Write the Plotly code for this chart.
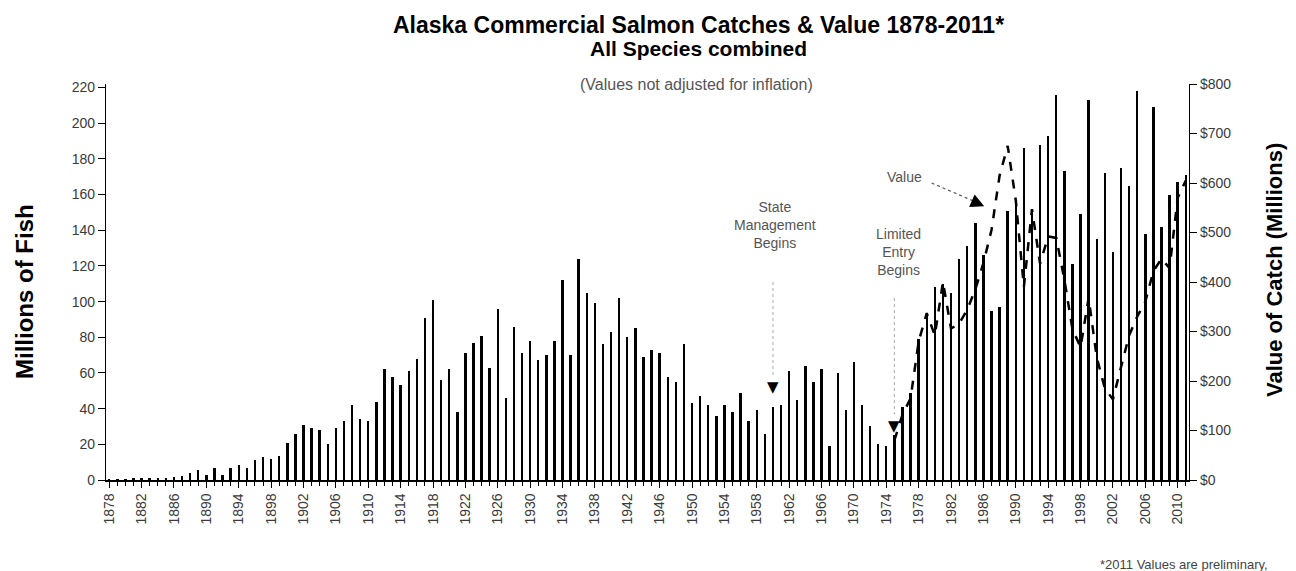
import plotly.graph_objects as go

# ---------------- data ----------------
years = list(range(1878, 2012))
catch_millions = [
    # 1878-1889
    0.2, 0.3, 0.4, 0.6, 1.0, 1.2, 1.0, 1.3, 1.8, 2.2, 4.0, 5.8,
    # 1890-1899
    3.0, 7.0, 3.0, 6.5, 8.4, 6.7, 11, 13, 12, 13.5,
    # 1900-1909
    21, 26, 31, 29, 28, 20, 29, 33, 42, 34,
    # 1910-1919
    33, 44, 62, 58, 53, 61, 68, 91, 101, 56,
    # 1920-1929
    62, 38, 71, 77, 81, 63, 96, 46, 86, 71,
    # 1930-1939
    78, 67, 70, 78, 112, 70, 124, 105, 99, 76,
    # 1940-1949
    83, 102, 80, 85, 69, 73, 71, 58, 55, 76,
    # 1950-1959
    43, 47, 42, 36, 42, 38, 49, 33, 39, 26,
    # 1960-1969
    41, 42, 61, 45, 64, 55, 62, 19, 60, 39,
    # 1970-1979
    66, 42, 30, 20, 19, 25, 41, 49, 79, 93,
    # 1980-1989
    108, 110, 105, 124, 131, 144, 126, 95, 97, 151,
    # 1990-1999
    154, 186, 151, 188, 193, 216, 173, 121, 149, 213,
    # 2000-2011
    135, 172, 128, 175, 165, 218, 138, 209, 142, 160, 167, 171,
]

value_years = list(range(1975, 2012))
value_millions = [
    80, 132, 165, 280, 337,
    292, 400, 306, 316, 344, 385, 438, 505, 615, 675,
    565, 390, 547, 437, 492, 489, 405, 305, 268, 368,
    248, 185, 163, 228, 292, 330, 360, 422, 447, 428,
    570, 605,
]

x_tick_years = list(range(1878, 2011, 4))
x_tick_labels = [str(y) for y in x_tick_years]
left_ticks = list(range(0, 221, 20))
left_tick_labels = [str(v) for v in left_ticks]
right_ticks = list(range(0, 801, 100))
right_tick_labels = ["$" + str(v) for v in right_ticks]

# ---------------- figure ----------------
FONT = "Liberation Sans, Arial, sans-serif"
TICKC = "#3a3a3a"

fig = go.Figure()
fig.add_trace(go.Bar(
    x=years, y=catch_millions, width=0.3,
    marker=dict(color="black", line=dict(width=0)),
    name="Catch", yaxis="y",
))
fig.add_trace(go.Scatter(
    x=value_years, y=value_millions, mode="lines",
    line=dict(color="black", width=2.5, dash="dash"),
    name="Value", yaxis="y2",
))

L, R, T, B = 98, 115, 76, 99
W, H = 1296, 571
pw, ph = W - L - R, H - T - B


def px_x(px):
    return (px - L) / pw


def px_y(py):
    return (H - B - py) / ph


fig.update_layout(
    width=W, height=H,
    margin=dict(l=L, r=R, t=T, b=B, pad=0),
    paper_bgcolor="white", plot_bgcolor="white",
    showlegend=False, bargap=0,
    font=dict(family=FONT, color=TICKC),
    xaxis=dict(
        range=[1877.6, 2011.4],
        tickmode="array", tickvals=x_tick_years, ticktext=x_tick_labels,
        tickangle=-90, tickfont=dict(size=14, color=TICKC),
        showline=True, linecolor="black", linewidth=1.5,
        ticks="outside", ticklen=6, tickcolor="black",
        minor=dict(tickmode="linear", tick0=1878, dtick=1, ticks="outside",
                   ticklen=4, tickcolor="black"),
        showgrid=False, zeroline=False,
    ),
    yaxis=dict(
        range=[0, 222],
        tickmode="array", tickvals=left_ticks, ticktext=left_tick_labels,
        tickfont=dict(size=14, color=TICKC),
        showline=True, linecolor="black", linewidth=1.2,
        ticks="outside", ticklen=7, tickcolor="black",
        showgrid=False, zeroline=False,
    ),
    yaxis2=dict(
        range=[0, 800], overlaying="y", side="right",
        tickmode="array", tickvals=right_ticks, ticktext=right_tick_labels,
        tickfont=dict(size=14, color=TICKC),
        showline=True, linecolor="black", linewidth=1.2,
        ticks="outside", ticklen=7, tickcolor="black",
        showgrid=False, zeroline=False,
    ),
)

ann = []
# titles
ann.append(dict(text="<b>Alaska Commercial Salmon Catches & Value 1878-2011*</b>",
                x=px_x(690), y=px_y(17), xref="paper", yref="paper",
                xanchor="center", yanchor="middle", showarrow=False,
                font=dict(size=23, color="black", family=FONT)))
ann.append(dict(text="<b>All Species combined</b>",
                x=px_x(690), y=px_y(41), xref="paper", yref="paper",
                xanchor="center", yanchor="middle", showarrow=False,
                font=dict(size=21, color="black", family=FONT)))
ann.append(dict(text="(Values not adjusted for inflation)",
                x=px_x(688), y=px_y(76), xref="paper", yref="paper",
                xanchor="center", yanchor="middle", showarrow=False,
                font=dict(size=16, color="#555", family=FONT)))
# axis titles
ann.append(dict(text="<b>Millions of Fish</b>", textangle=-90,
                x=px_x(16), y=px_y(284), xref="paper", yref="paper",
                xanchor="center", yanchor="middle", showarrow=False,
                font=dict(size=24, color="black", family=FONT)))
ann.append(dict(text="<b>Value of Catch (Millions)</b>", textangle=-90,
                x=px_x(1266), y=px_y(262), xref="paper", yref="paper",
                xanchor="center", yanchor="middle", showarrow=False,
                font=dict(size=22, color="black", family=FONT)))
# event annotations
ann.append(dict(text="State<br>Management<br>Begins", x=1960.2, y=143,
                xref="x", yref="y", showarrow=False, align="center",
                font=dict(size=14, color="#555", family=FONT)))
ann.append(dict(text="▼", x=1960, y=52, xref="x", yref="y", showarrow=False,
                font=dict(size=15, color="black", family="DejaVu Sans")))
ann.append(dict(text="Limited<br>Entry<br>Begins", x=1975.45, y=128,
                xref="x", yref="y", showarrow=False, align="center",
                font=dict(size=14, color="#555", family=FONT)))
ann.append(dict(text="▼", x=1975, y=30.5, xref="x", yref="y", showarrow=False,
                font=dict(size=15, color="black", family="DejaVu Sans")))
ann.append(dict(text="Value", x=1976.2, y=612, xref="x", yref="y2",
                showarrow=False, font=dict(size=14, color="#555", family=FONT)))
ann.append(dict(text="", x=1986.1, y=553, xref="x", yref="y2",
                showarrow=True, arrowhead=2, arrowsize=1.8, arrowwidth=1.5,
                arrowcolor="black", ax=-9, ay=-4))
# footnote
ann.append(dict(text="*2011 Values are preliminary,",
                x=px_x(1262), y=px_y(556), xref="paper", yref="paper",
                xanchor="right", yanchor="middle", showarrow=False,
                font=dict(size=13, color="#444", family=FONT)))
fig.update_layout(annotations=ann)

shapes = [
    dict(type="line", xref="x", yref="y", x0=1960, x1=1960, y0=111, y1=58,
         line=dict(color="#aaa", width=1, dash="dot")),
    dict(type="line", xref="x", yref="y", x0=1975, x1=1975, y0=102, y1=37,
         line=dict(color="#aaa", width=1, dash="dot")),
    dict(type="line", xref="x", yref="y2", x0=1979.6, x1=1985.0, y0=600, y1=562,
         line=dict(color="#555", width=1.2, dash="dot")),
    dict(type="line", xref="paper", yref="paper", x0=px_x(1292), x1=px_x(1292),
         y0=px_y(440), y1=px_y(571), line=dict(color="#777", width=1, dash="dash")),
]
fig.update_layout(shapes=shapes)

fig.write_html("out.html")
